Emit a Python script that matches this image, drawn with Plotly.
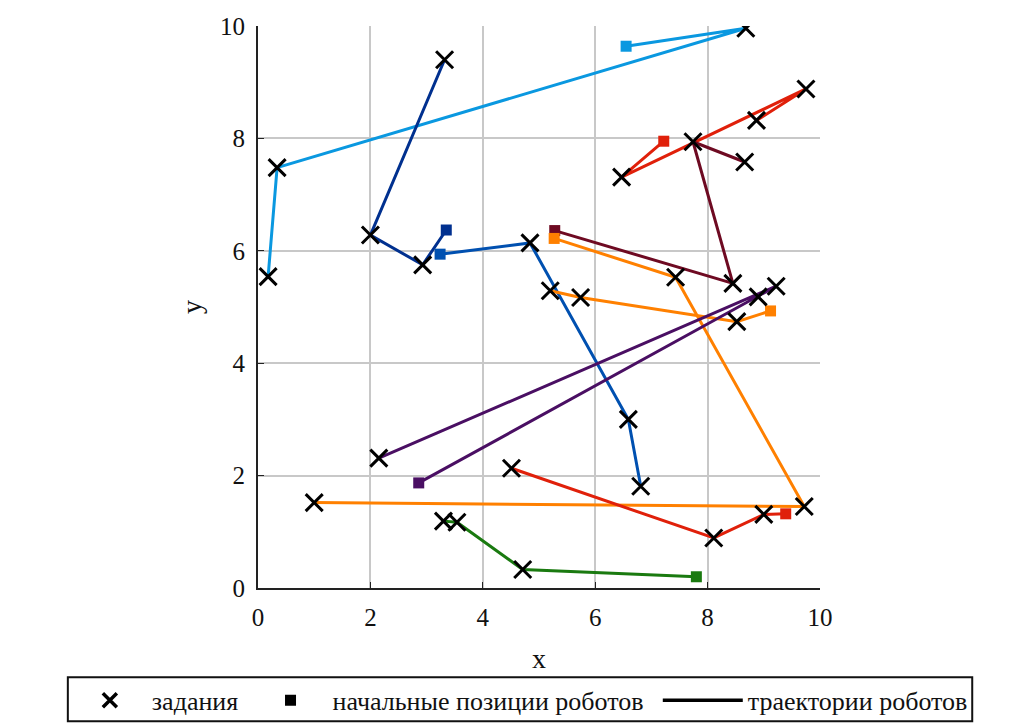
import plotly.graph_objects as go

# Robot colours (one per robot)
robot_colors = ["#0a98e0", "#00308f", "#0050b0", "#e0200a", "#6e0a22",
                "#ff8000", "#ff8000", "#4a0f63", "#1a7a10", "#e0200a"]

# Start positions of robots
start_x = [6.55, 3.35, 3.24, 7.22, 5.28, 5.27, 9.12, 2.86, 7.80, 9.39]
start_y = [9.64, 6.37, 5.94, 7.95, 6.36, 6.22, 4.93, 1.87, 0.20, 1.32]

# Tasks visited by each robot, in order
route_x = [[8.68, 0.34, 0.18], [2.93, 2.00, 3.32], [4.84, 6.59, 6.81],
           [6.47, 9.75, 8.87], [8.45, 7.74, 8.66], [7.43, 9.72, 1.00],
           [8.52, 5.74, 5.20], [8.90, 9.22, 2.15], [4.71, 3.54, 3.30],
           [9.00, 8.11, 4.51]]
route_y = [[9.96, 7.48, 5.54], [5.75, 6.28, 9.40], [6.14, 3.00, 1.81],
           [7.31, 8.88, 8.32], [5.42, 7.94, 7.58], [5.53, 1.45, 1.52],
           [4.74, 5.17, 5.29], [5.18, 5.37, 2.31], [0.33, 1.17, 1.19],
           [1.31, 0.89, 2.13]]

legend_labels = ["задания", "начальные позиции роботов", "траектории роботов"]

FONT = "Liberation Serif"

fig = go.Figure()

# trajectories
for i, c in enumerate(robot_colors):
    fig.add_trace(go.Scatter(
        x=[start_x[i]] + route_x[i], y=[start_y[i]] + route_y[i],
        mode="lines", line=dict(color=c, width=3), showlegend=False,
        hoverinfo="skip"))

# start squares
for i, c in enumerate(robot_colors):
    fig.add_trace(go.Scatter(
        x=[start_x[i]], y=[start_y[i]], mode="markers",
        marker=dict(symbol="square", size=11, color=c),
        showlegend=False))

# tasks
all_tx = [v for r in route_x for v in r]
all_ty = [v for r in route_y for v in r]
fig.add_trace(go.Scatter(
    x=all_tx, y=all_ty, mode="markers",
    marker=dict(symbol="x-thin", size=17, line=dict(color="black", width=3)),
    showlegend=False))

# legend entries (each in its own legend for exact placement)
fig.add_trace(go.Scatter(x=[None], y=[None], mode="markers", name=legend_labels[0],
                         legend="legend",
                         marker=dict(symbol="x-thin", size=14,
                                     line=dict(color="black", width=3.5))))
fig.add_trace(go.Scatter(x=[None], y=[None], mode="markers", name=legend_labels[1],
                         legend="legend2",
                         marker=dict(symbol="square", size=11, color="black")))
fig.add_trace(go.Scatter(x=[None], y=[None], mode="lines", name=legend_labels[2],
                         legend="legend3",
                         line=dict(color="black", width=3.5)))

axis_common = dict(
    range=[0, 10], dtick=2, tick0=0, showgrid=True, gridcolor="#c8c8c8",
    gridwidth=1.5, zeroline=False, showline=True, linecolor="#222",
    linewidth=2, ticks="inside", ticklen=6, tickcolor="#222",
    ticklabelstandoff=6, automargin=False,
    tickfont=dict(family=FONT, size=25, color="#111"),
)

# plot-area edges in page pixels (page has an 8px body margin)
L = 257.5
W = 563.0
B = 588.5
OFF = 8


def px_x(p):
    return (p - L) / W


def px_y(p):
    return (B - p) / W


leg_common = dict(orientation="h", yanchor="middle", y=px_y(701), xanchor="left",
                  bgcolor="rgba(0,0,0,0)", borderwidth=0,
                  font=dict(family=FONT, size=26, color="#111"))

fig.update_layout(
    width=1015, height=728,
    margin=dict(l=L - OFF, r=1015 - (L + W - OFF), t=B - W - OFF, b=728 - (B - OFF),
                autoexpand=False),
    paper_bgcolor="white", plot_bgcolor="white",
    xaxis=dict(**axis_common, title=dict(text="x", font=dict(family=FONT, size=28, color="#111"),
                                         standoff=18)),
    yaxis=dict(**axis_common, title=dict(text="y", font=dict(family=FONT, size=28, color="#111"),
                                         standoff=10)),
    legend=dict(**leg_common, x=px_x(67), itemwidth=74),
    legend2=dict(**leg_common, x=px_x(248), itemwidth=74),
    legend3=dict(**leg_common, x=px_x(658), itemwidth=80),
    showlegend=True,
    shapes=[dict(type="rect", xref="paper", yref="paper",
                 x0=px_x(67), x1=px_x(973), y0=px_y(722), y1=px_y(678),
                 line=dict(color="#111", width=2), fillcolor="rgba(0,0,0,0)")],
)

fig.write_html("out.html")
